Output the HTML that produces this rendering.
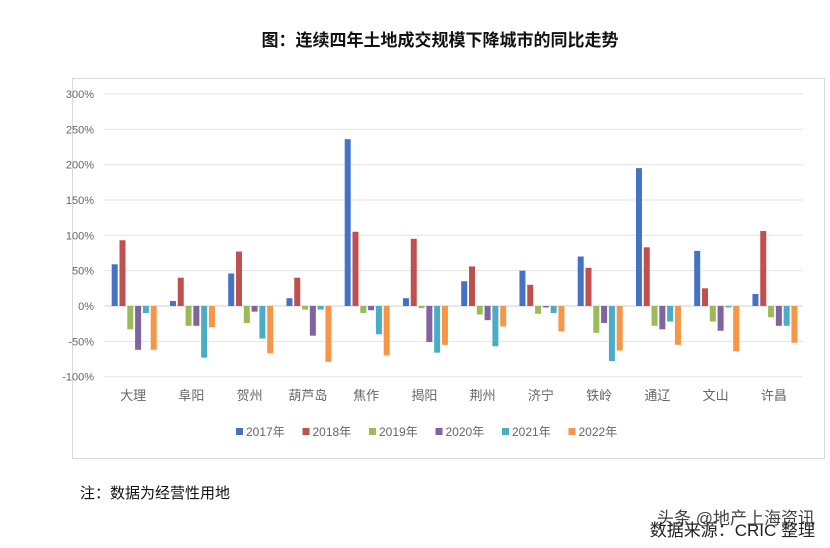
<!DOCTYPE html>
<html><head><meta charset="utf-8"><style>
body{margin:0;width:830px;height:543px;background:#fff;overflow:hidden;font-family:"Liberation Sans","Noto Sans CJK SC",sans-serif;}
</style></head><body>
<svg width="830" height="543" xmlns="http://www.w3.org/2000/svg" font-family="Liberation Sans, Noto Sans CJK SC, sans-serif">
<text x="440" y="46" text-anchor="middle" font-size="17" font-weight="bold" fill="#111">图：连续四年土地成交规模下降城市的同比走势</text>
<rect x="72.5" y="78.5" width="752" height="380" fill="#fff" stroke="#d9d9d9"/>
<g id="grid"></g>
<g id="bars"></g>
<g id="legend"></g>
<text x="80" y="498" font-size="15" fill="#111">注：数据为经营性用地</text>
<text x="815" y="536" text-anchor="end" font-size="17" fill="#222">数据来源：CRIC 整理</text>
<text x="815" y="524" text-anchor="end" font-size="17" fill="#222" opacity="0.85">头条 @地产上海资讯</text>
</svg>
<script>
var ns="http://www.w3.org/2000/svg";
function el(p,t,a,txt){var e=document.createElementNS(ns,t);for(var k in a)e.setAttribute(k,a[k]);if(txt!==undefined)e.textContent=txt;p.appendChild(e);return e;}
var g=document.getElementById('grid'),b=document.getElementById('bars'),L=document.getElementById('legend');
var y0=306,pp=0.707;
for(var v=300;v>=-100;v-=50){var y=y0-v*pp;el(g,'line',{x1:104,x2:803,y1:y,y2:y,stroke:v==0?'#d0d0d0':'#e3e3e3','stroke-width':1});el(g,'text',{x:94,y:y+4,'text-anchor':'end','font-size':11,fill:'#666'},v+'%');}
var cols=['#4472c4','#c0504d','#9bbb59','#8064a2','#4bacc6','#f79646'];
var cats=['大理','阜阳','贺州','葫芦岛','焦作','揭阳','荆州','济宁','铁岭','通辽','文山','许昌'];
var d=[[59,93,-33,-62,-10,-62],[7,40,-28,-28,-73,-30],[46,77,-24,-8,-46,-67],[11,40,-5,-42,-5,-79],[236,105,-10,-6,-40,-70],[11,95,-3,-51,-66,-55],[35,56,-12,-20,-57,-29],[50,30,-11,-2,-10,-36],[70,54,-38,-24,-78,-63],[195,83,-28,-33,-22,-55],[78,25,-22,-35,-2,-64],[17,106,-16,-28,-28,-52]];
var cw=58.25;
for(var i=0;i<12;i++){var x0=104+i*cw;for(var j=0;j<6;j++){var v=d[i][j],h=Math.abs(v)*pp;el(b,'rect',{x:x0+7.7+j*7.8,y:v>0?y0-h:y0,width:6,height:h,fill:cols[j]});}
el(b,'text',{x:x0+cw/2,y:400,'text-anchor':'middle','font-size':13,fill:'#666'},cats[i]);}
var yrs=['2017年','2018年','2019年','2020年','2021年','2022年'];
for(var j=0;j<6;j++){var lx=236+j*66.5;el(L,'rect',{x:lx,y:428,width:7,height:7,fill:cols[j]});el(L,'text',{x:lx+10,y:436,'font-size':12,fill:'#666'},yrs[j]);}
</script>
</body></html>
